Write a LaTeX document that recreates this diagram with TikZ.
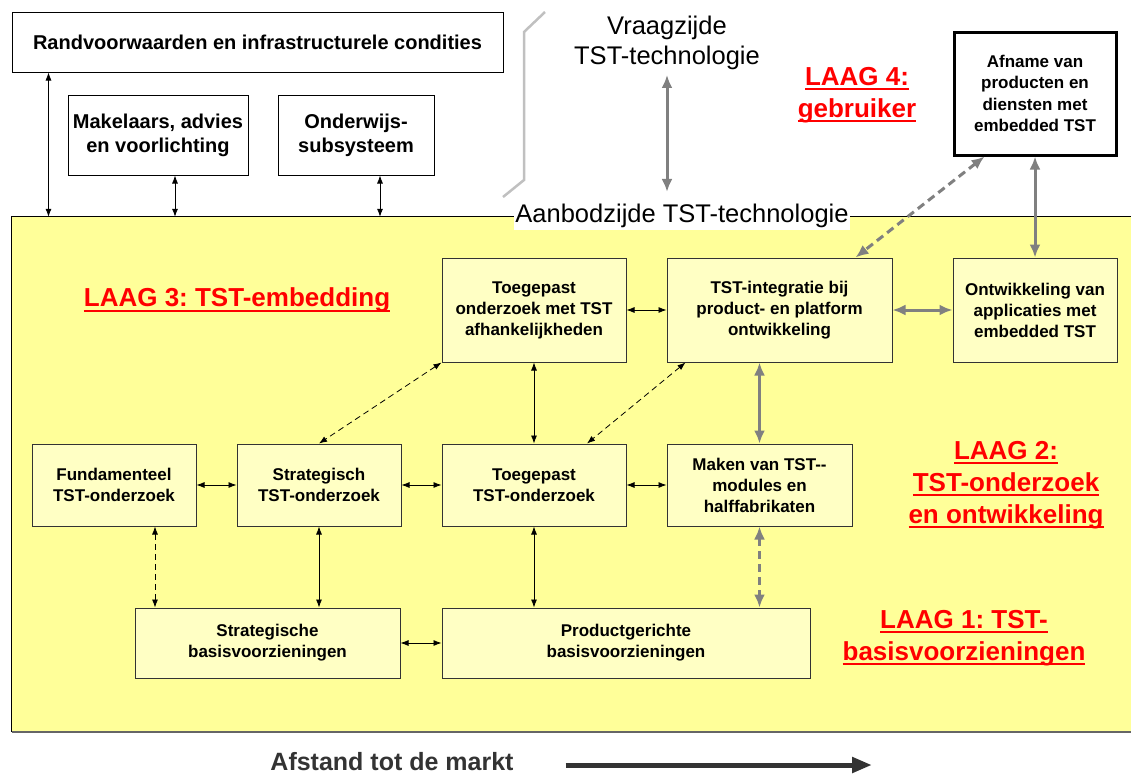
\documentclass[tikz,border=0pt]{standalone}
\usepackage{fontspec}
\setmainfont{Liberation Sans}
\usepackage{xcolor}
\usepackage{tikz}
\usetikzlibrary{positioning}
\usetikzlibrary{arrows.meta}
\pgfdeclarelayer{nodelayer}
\pgfdeclarelayer{edgelayer}
\pgfsetlayers{nodelayer,edgelayer,main}
\frenchspacing
\definecolor{laaggeel}{HTML}{FFFF99}
\definecolor{blokgeel}{HTML}{FFFFC4}
\definecolor{pijlgrijs}{HTML}{808080}
\definecolor{lijngrijs}{HTML}{C0C0C0}
\definecolor{marktgrijs}{HTML}{333333}
\newcommand{\onderstreep}[1]{\setbox0\hbox{#1}\rlap{\rule[-5pt]{\wd0}{2pt}}\box0}
\tikzset{
    none/.style = {inner sep=0pt},
    kader/.style = {draw=black, line width=1pt, fill=white, align=center, font=\fontsize{20}{24}\selectfont\bfseries},
    blok/.style = {draw=black!80, line width=1pt, fill=blokgeel, align=center, font=\fontsize{17}{21}\selectfont\bfseries},
    laag/.style = {text=red, align=center, font=\fontsize{26}{32}\selectfont\bfseries},
    zijde/.style = {align=center, font=\fontsize{25.5}{30}\selectfont},
    pijl/.style = {{Latex[length=8pt,width=6pt]}-{Latex[length=8pt,width=6pt]}, line width=0.8pt},
    stippijl/.style = {pijl, dash pattern=on 6pt off 4pt},
    grijspijl/.style = {{Latex[length=13pt,width=11pt]}-{Latex[length=13pt,width=11pt]}, line width=3pt, draw=pijlgrijs},
    grijsstippijl/.style = {grijspijl, dash pattern=on 8pt off 5pt},
    marktpijl/.style = {-{Triangle[length=20pt,width=15pt]}, line width=5pt, draw=marktgrijs}
}

\begin{document}
\begin{tikzpicture}[x=1pt, y=-1pt]
    \useasboundingbox (0,0) rectangle (1131,774);
    \begin{pgfonlayer}{nodelayer}
        % Yellow area with its border
        \node [style=none, fill=laaggeel, minimum width=1128pt, minimum height=515pt] (20) at (576, 474.5) {};
        \draw [line width=1pt] (20.south west) -- (20.north west) -- (20.north east);
        \draw [line width=2pt, draw=black!60] (20.south west) -- (20.south east);
        % Boxes outside the yellow area
        \node [style=kader, minimum width=491pt, minimum height=60pt] (0) at (257.5, 42) {Randvoorwaarden en infrastructurele condities};
        \node [style=kader, minimum width=180pt, minimum height=80pt] (1) at (158, 135) {Makelaars, advies\\en voorlichting};
        \node [style=kader, minimum width=156pt, minimum height=80pt] (2) at (356, 135) {Onderwijs-\\subsysteem};
        \node [style=kader, line width=3pt, font=\fontsize{17}{21.3}\selectfont\bfseries, minimum width=162pt, minimum height=123pt] (21) at (1035, 93.5) {Afname van\\producten en\\diensten met\\embedded TST};
        \node [style=zijde] (22) at (667, 43) {Vraagzijde\\TST-technologie};
        \node [style=zijde, fill=white, inner xsep=1pt, inner ysep=2pt] (23) at (682, 216) {Aanbodzijde TST-technologie};
        % Row 1
        \node [style=blok, minimum width=184pt, minimum height=104pt] (3) at (534, 310) {Toegepast\\onderzoek met TST\\afhankelijkheden};
        \node [style=blok, minimum width=225pt, minimum height=104pt] (4) at (779.5, 310) {TST-integratie bij\\product- en platform\\ontwikkeling};
        \node [style=blok, minimum width=164pt, minimum height=104pt] (5) at (1035, 310) {Ontwikkeling van\\applicaties met\\embedded TST};
        % Row 2
        \node [style=blok, minimum width=164pt, minimum height=82pt] (6) at (114, 485) {Fundamenteel\\TST-onderzoek};
        \node [style=blok, minimum width=164pt, minimum height=82pt] (7) at (319, 485) {Strategisch\\TST-onderzoek};
        \node [style=blok, minimum width=184pt, minimum height=82pt] (8) at (534, 485) {Toegepast\\TST-onderzoek};
        \node [style=blok, minimum width=185pt, minimum height=82pt] (9) at (759.5, 485) {Maken van TST-{}-\\modules en\\halffabrikaten};
        % Row 3
        \node [style=blok, minimum width=265pt, minimum height=70pt] (10) at (267.5, 643) {Strategische\\basisvoorzieningen};
        \node [style=blok, minimum width=368pt, minimum height=70pt] (11) at (626, 643) {Productgerichte\\basisvoorzieningen};
        % Layer labels
        \node [style=laag] (24) at (857, 95) {\onderstreep{LAAG 4:}\\\onderstreep{gebruiker}};
        \node [style=laag] (25) at (237, 300) {\onderstreep{LAAG 3: TST-embedding}};
        \node [style=laag] (26) at (1006, 485) {\onderstreep{LAAG 2:}\\\onderstreep{TST-onderzoek}\\\onderstreep{en ontwikkeling}};
        \node [style=laag] (27) at (964, 638) {\onderstreep{LAAG 1: TST-}\\\onderstreep{basisvoorzieningen}};
        % Market distance
        \node [text=marktgrijs, anchor=base, inner sep=0pt, font=\fontsize{25}{30}\selectfont\bfseries] (12) at (392, 770) {Afstand tot de markt};
        \coordinate (13) at (872, 765);
    \end{pgfonlayer}
    \begin{pgfonlayer}{edgelayer}
        % Grey bracket between supply and demand
        \draw [lijngrijs, line width=2.5pt] (545,12) -- (524,32) -- (524,180) -- (503,197);
        % Links to the outside boxes
        \draw [style=pijl] ([xshift=37pt]0.south west) to ([xshift=37pt]0.south west |- 20.north);
        \draw [style=pijl] ([xshift=17pt]1.south) to ([xshift=17pt]1.south |- 20.north);
        \draw [style=pijl] ([xshift=24pt]2.south) to ([xshift=24pt]2.south |- 20.north);
        \draw [style=grijspijl, shorten <=1.5pt, shorten >=10pt] (22.south) to (22.south |- 23.north);
        \draw [style=grijspijl] (21.south) to (5.north);
        \draw [style=grijsstippijl] ([xshift=32pt]21.south west) to ([xshift=-37pt]4.north east);
        % Row 1
        \draw [style=pijl] (3.east) to (4.west);
        \draw [style=grijspijl] (4.east) to (5.west);
        % Row 1 to row 2
        \draw [style=pijl] (3.south) to (8.north);
        \draw [style=stippijl] (3.south west) to (7.north);
        \draw [style=stippijl] ([xshift=19pt]4.south west) to ([xshift=53pt]8.north);
        \draw [style=grijspijl] (9.north |- 4.south) to (9.north);
        % Row 2
        \draw [style=pijl] (6.east) to (7.west);
        \draw [style=pijl] (7.east) to (8.west);
        \draw [style=pijl] (8.east) to (9.west);
        % Row 2 to row 3
        \draw [style=stippijl] ([xshift=41pt]6.south) to ([xshift=41pt]6.south |- 10.north);
        \draw [style=pijl] (7.south) to (7.south |- 10.north);
        \draw [style=pijl] (8.south) to (8.south |- 11.north);
        \draw [style=grijsstippijl] (9.south) to (9.south |- 11.north);
        % Row 3
        \draw [style=pijl] (10.east) to (11.west);
        % Distance to the market
        \draw [style=marktpijl] (12.east |- 13) ++(52pt,0) to (13);
    \end{pgfonlayer}
\end{tikzpicture}
\end{document}
